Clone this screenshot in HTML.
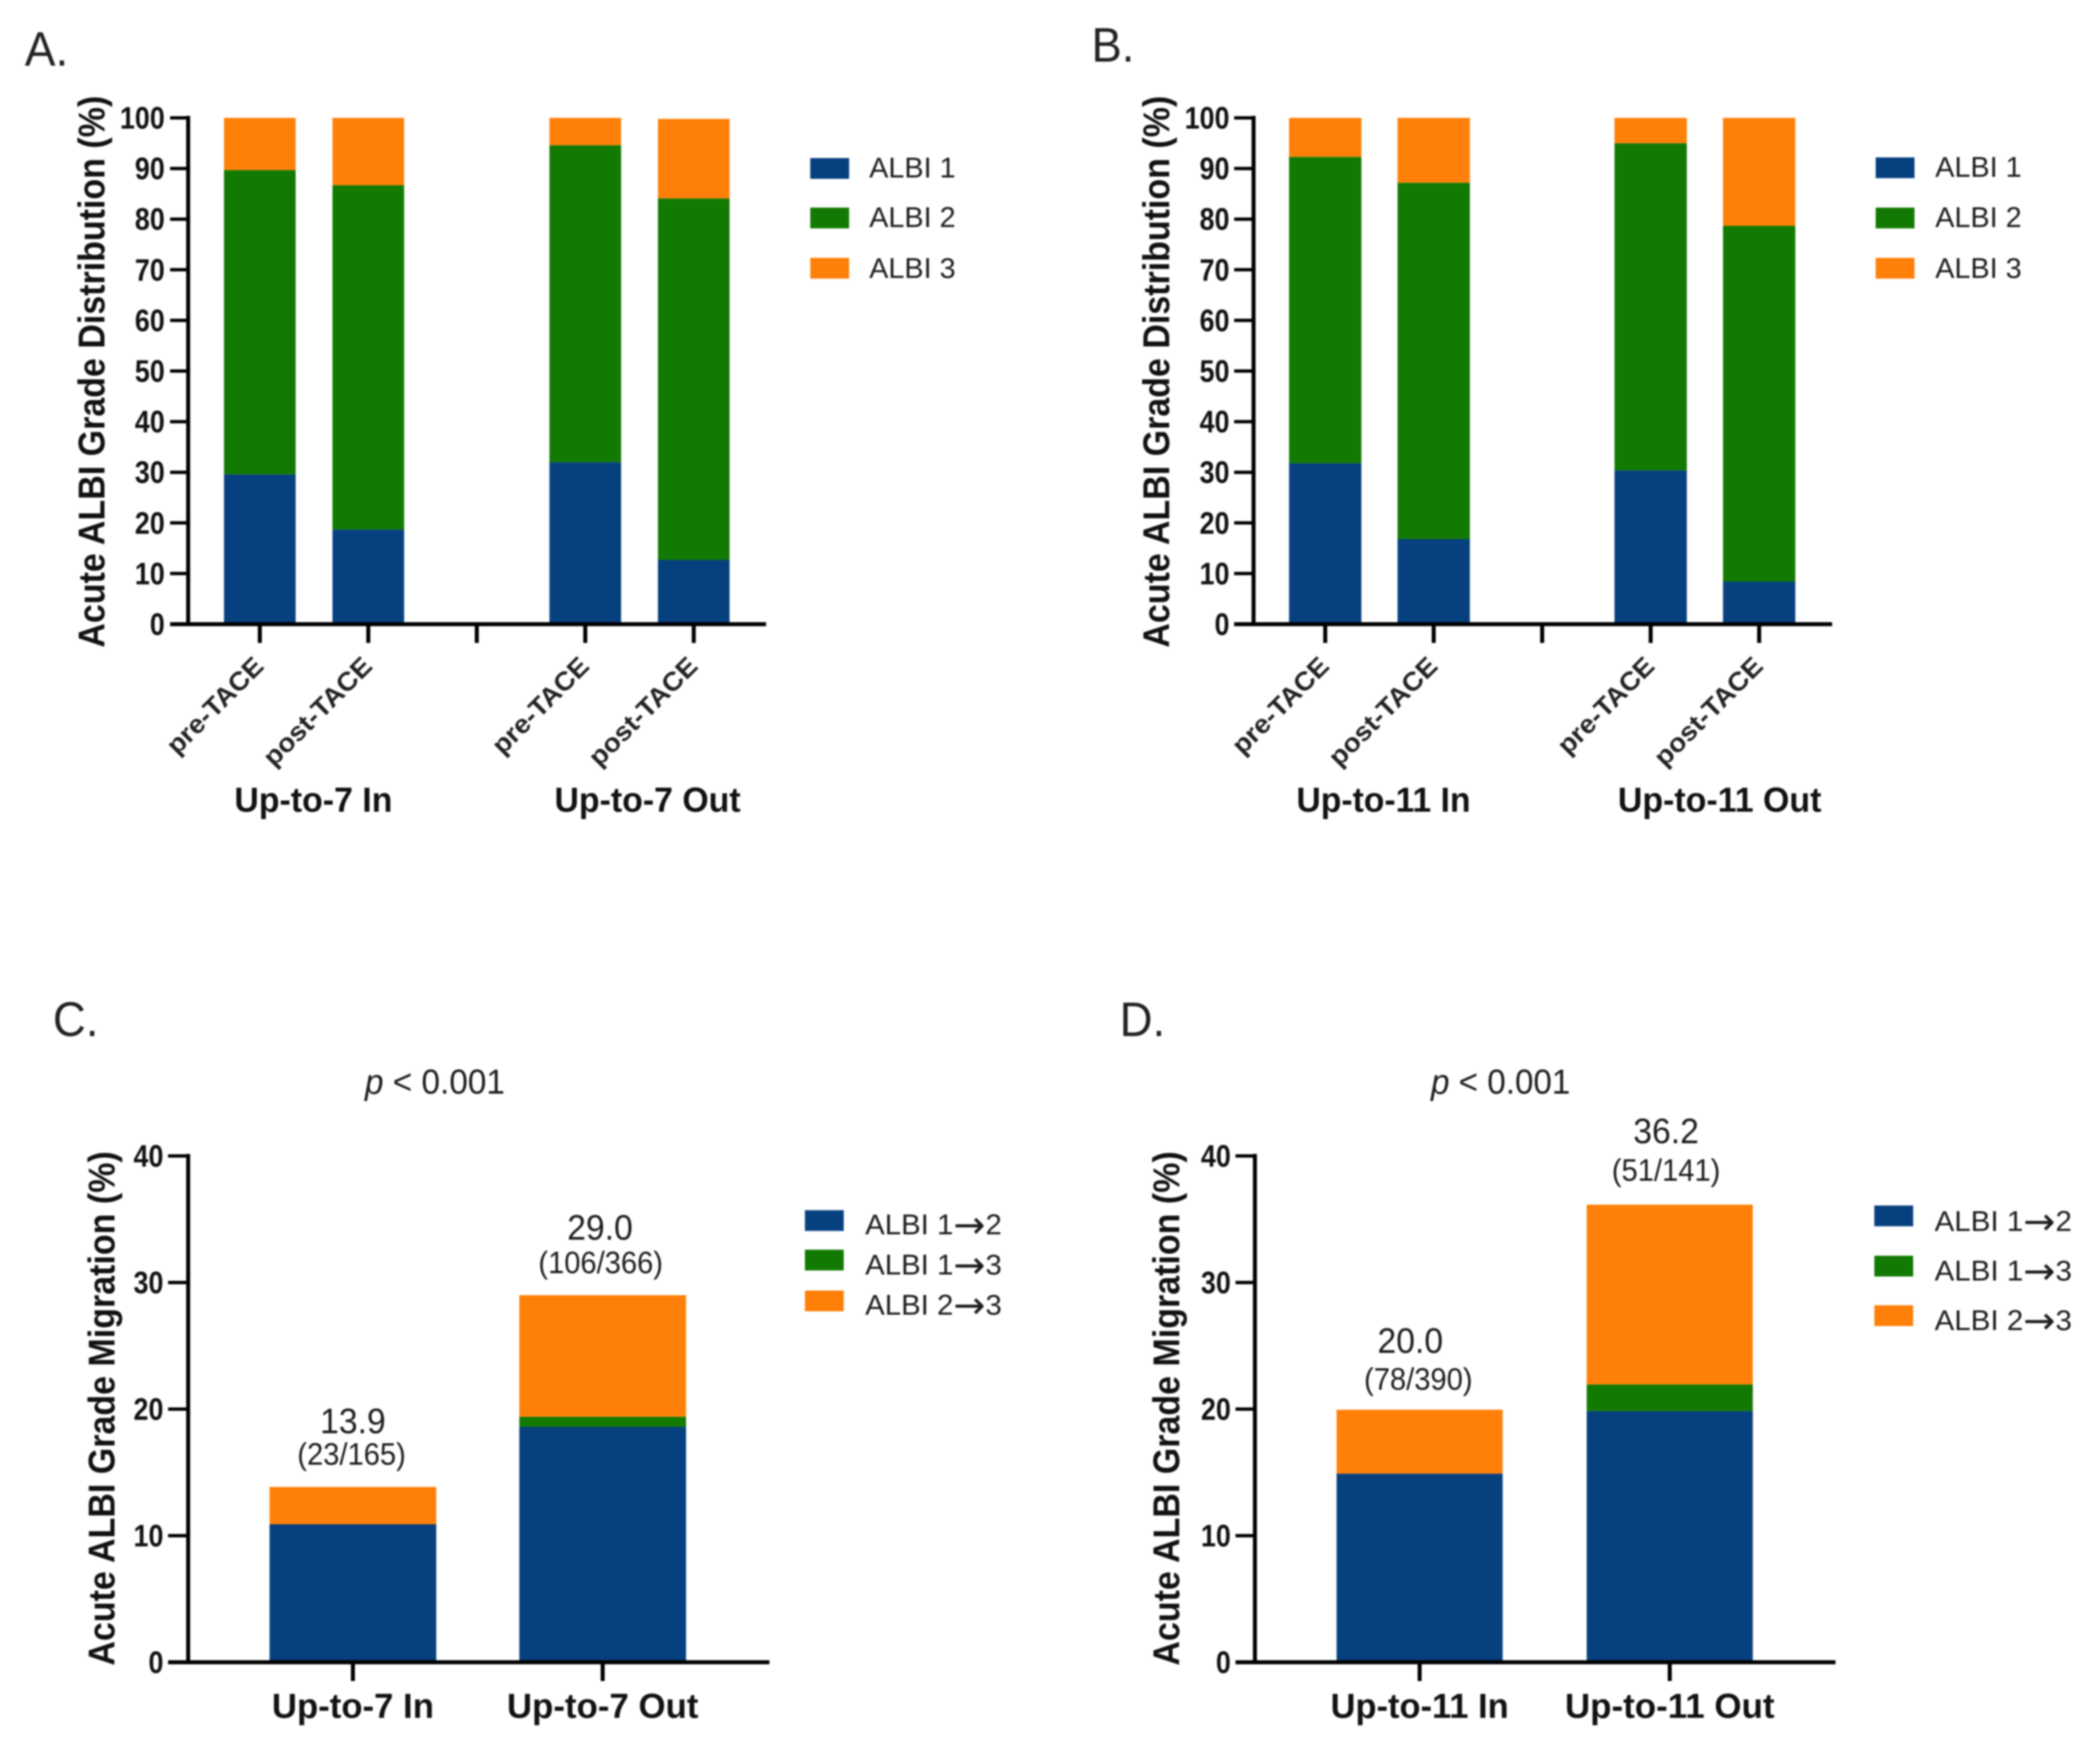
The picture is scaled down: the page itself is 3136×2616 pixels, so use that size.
<!DOCTYPE html>
<html lang="en">
<head>
<meta charset="utf-8">
<title>Acute ALBI Grade Distribution and Migration</title>
<style>
html,body{margin:0;padding:0;background:#fff;}
body{width:3136px;height:2616px;overflow:hidden;}
#figure{display:block;filter:blur(1.4px);font-family:"Liberation Sans",Arial,sans-serif;}
</style>
</head>
<body>
<svg id="figure" xmlns="http://www.w3.org/2000/svg" width="3136" height="2616" viewBox="0 0 3136 2616">
<rect x="0" y="0" width="3136" height="2616" fill="#fff"/>
<text x="37" y="98" font-size="72" fill="#222" textLength="65" lengthAdjust="spacingAndGlyphs">A.</text>
<text x="1630" y="92" font-size="72" fill="#222" textLength="64" lengthAdjust="spacingAndGlyphs">B.</text>
<text x="79" y="1547" font-size="72" fill="#222" textLength="68" lengthAdjust="spacingAndGlyphs">C.</text>
<text x="1672" y="1547" font-size="72" fill="#222" textLength="68" lengthAdjust="spacingAndGlyphs">D.</text>
<text x="545" y="1633" font-size="52" fill="#1c1c1c" textLength="209" lengthAdjust="spacingAndGlyphs"><tspan font-style="italic">p</tspan> &lt; 0.001</text>
<text x="2137" y="1633" font-size="52" fill="#1c1c1c" textLength="208" lengthAdjust="spacingAndGlyphs"><tspan font-style="italic">p</tspan> &lt; 0.001</text>
</svg>
<script>
// Shared series colours and tick labels
const seriesColors = ['#07407f', '#127a02', '#ff8008'];
const distributionTicks = [0, 10, 20, 30, 40, 50, 60, 70, 80, 90, 100];
const migrationTicks = [0, 10, 20, 30, 40];
const distributionLegend = ['ALBI 1', 'ALBI 2', 'ALBI 3'];
const migrationLegend = ['ALBI 1\u21922', 'ALBI 1\u21923', 'ALBI 2\u21923'];

// Panel A
const panelACategories = ['pre-TACE', 'post-TACE', '', 'pre-TACE', 'post-TACE'];
const panelAGroups = ['Up-to-7 In', 'Up-to-7 Out'];
const panelAAlbi1 = [29.6, 18.7, null, 32.0, 12.7];
const panelAAlbi2 = [60.1, 68.0, null, 62.6, 71.4];
const panelAAlbi3 = [10.3, 13.3, null, 5.4, 15.7];

// Panel B
const panelBCategories = ['pre-TACE', 'post-TACE', '', 'pre-TACE', 'post-TACE'];
const panelBGroups = ['Up-to-11 In', 'Up-to-11 Out'];
const panelBAlbi1 = [31.8, 16.8, null, 30.4, 8.4];
const panelBAlbi2 = [60.5, 70.4, null, 64.6, 70.3];
const panelBAlbi3 = [7.7, 12.8, null, 5.0, 21.3];

// Panel C
const panelCCategories = ['Up-to-7 In', 'Up-to-7 Out'];
const panelCMig12 = [10.9, 18.6];
const panelCMig13 = [0, 0.8];
const panelCMig23 = [2.95, 9.6];
const panelCTotals = ['13.9', '29.0'];
const panelCCounts = ['(23/165)', '(106/366)'];

// Panel D
const panelDCategories = ['Up-to-11 In', 'Up-to-11 Out'];
const panelDMig12 = [14.9, 19.85];
const panelDMig13 = [0, 2.1];
const panelDMig23 = [5.05, 14.2];
const panelDTotals = ['20.0', '36.2'];
const panelDCounts = ['(78/390)', '(51/141)'];

const svg = document.getElementById('figure');
const NS = 'http://www.w3.org/2000/svg';

function make(tag, attrs, parent) {
  const el = document.createElementNS(NS, tag);
  for (const k in attrs) el.setAttribute(k, attrs[k]);
  parent.appendChild(el);
  return el;
}
function label(str, attrs, parent) {
  const el = make('text', Object.assign({ lengthAdjust: 'spacingAndGlyphs' }, attrs), parent);
  el.textContent = str;
  return el;
}

function drawAxes(g, L, ticks, yScale) {
  const yAxis = make('line', { x1: L.axisX, x2: L.axisX, y1: yScale(ticks[ticks.length - 1]) - 3, y2: L.y0 + 3, stroke: '#000', 'stroke-width': 6 }, g);
  
  
  const xAxis = make('line', { x1: L.axisStart, x2: L.axisEnd, y1: L.y0, y2: L.y0, stroke: '#000', 'stroke-width': 6 }, g);
  
  
  ticks.forEach(function (t) {
    const y = yScale(t);
    if (t !== 0) {
      const tk = make('line', { x1: L.axisStart, x2: L.axisX, y1: y, y2: y, stroke: '#000', 'stroke-width': 5 }, g);
      
      
    }
    const s = String(t);
    const tl = label(s, { x: L.tickRight, y: y + 16, 'text-anchor': 'end', 'font-size': 46, 'font-weight': 'bold', fill: '#111', textLength: s.length * 22.3 }, g);
    
    
  });
}

function drawYTitle(g, L, str) {
  const t = label(str, {
    x: 0, y: 0, 'text-anchor': 'middle', 'font-size': 56, 'font-weight': 'bold', fill: '#111',
    textLength: L.titleLen,
    transform: 'translate(' + L.titleX + ' ' + L.titleY + ') rotate(-90)'
  }, g);
  
  
}

function drawLegend(g, L, names) {
  names.forEach(function (n, i) {
    const sw = make('rect', { x: L.legSwatchX, y: L.legTop[i], width: 58, height: 31, fill: seriesColors[i] }, g);
    
    
    const tx = make('text', { x: L.legTextX, y: L.legBase[i], 'font-size': L.legFont, fill: '#1c1c1c', textLength: L.legLen, lengthAdjust: 'spacingAndGlyphs' }, g);
    
    
    const parts = n.split('\u2192');
    if (parts.length === 2) {
      make('tspan', {}, tx).textContent = parts[0];
      make('tspan', { 'font-family': '"DejaVu Sans", sans-serif', 'font-size': 56, dy: 5 }, tx).textContent = '\u2192';
      make('tspan', { dy: -5 }, tx).textContent = parts[1];
    } else {
      tx.textContent = n;
    }
  });
}

function drawBars(g, L, stacks, yScale, xScale) {
  stacks[0].forEach(function (_, c) {
    if (stacks[0][c] === null) return;
    let base = 0;
    stacks.forEach(function (series, s) {
      const v = series[c];
      if (v > 0) {
        const top = yScale(base + v);
        const r = make('rect', { x: xScale(c) - L.barW / 2, y: top, width: L.barW, height: yScale(base) - top, fill: seriesColors[s] }, g);
        
        
      }
      base += v;
    });
  });
}

function drawDistribution(L, cats, groups, stacks, title) {
  const g = make('g', {}, svg);
  
  
  const yScale = function (v) { return L.y0 - v * (L.y0 - L.yTop) / 100; };
  const xScale = function (i) { return L.x0 + i * L.step; };
  drawBars(g, L, stacks, yScale, xScale);
  drawAxes(g, L, distributionTicks, yScale);
  cats.forEach(function (c, i) {
    const x = xScale(i);
    const tk = make('line', { x1: x, x2: x, y1: L.y0, y2: L.y0 + 28, stroke: '#000', 'stroke-width': 6 }, g);
    
    
    if (c) {
      const tl = label(c, {
        x: 0, y: 0, 'text-anchor': 'end', 'font-size': 39, 'font-weight': 'bold', fill: '#222',
        textLength: c.length === 8 ? 186 : 211,
        transform: 'translate(' + (x + 8) + ' 997) rotate(-45)'
      }, g);
      
      
    }
  });
  groups.forEach(function (n, i) {
    const gl = label(n, { x: L.groupX[i], y: L.groupY, 'font-size': 52, 'font-weight': 'bold', fill: '#111', textLength: L.groupLen[i] }, g);
    
    
  });
  drawYTitle(g, L, title);
  drawLegend(g, L, distributionLegend);
}

function drawMigration(L, cats, stacks, totals, counts, title) {
  const g = make('g', {}, svg);
  
  
  const yScale = function (v) { return L.y0 - v * (L.y0 - L.yTop) / 40; };
  const xScale = function (i) { return L.x0 + i * L.step; };
  drawBars(g, L, stacks, yScale, xScale);
  drawAxes(g, L, migrationTicks, yScale);
  cats.forEach(function (c, i) {
    const x = xScale(i);
    const tk = make('line', { x1: x, x2: x, y1: L.y0, y2: L.y0 + 28, stroke: '#000', 'stroke-width': 6 }, g);
    
    
    const tl = label(c, { x: x, y: L.catY, 'text-anchor': 'middle', 'font-size': 52, 'font-weight': 'bold', fill: '#111', textLength: L.catLen[i] }, g);
    
    
    const total = stacks.reduce(function (a, s) { return a + s[i]; }, 0);
    const top = yScale(total);
    const v = label(totals[i], { x: L.valX[i], y: top - L.valDy[i], 'text-anchor': 'middle', 'font-size': 53, fill: '#1c1c1c', textLength: 98 }, g);
    
    
    const f = label(counts[i], { x: L.fracX[i], y: top - L.fracDy[i], 'text-anchor': 'middle', 'font-size': 46, fill: '#1c1c1c', textLength: L.fracLen[i] }, g);
    
    
  });
  drawYTitle(g, L, title);
  drawLegend(g, L, migrationLegend);
}

drawDistribution({
  y0: 932, yTop: 176, axisX: 281, axisStart: 254, axisEnd: 1144, tickRight: 246,
  x0: 388, step: 162, barW: 107,
  groupX: [350, 828], groupY: 1212, groupLen: [236, 278],
  titleX: 156, titleY: 555, titleLen: 824,
  legSwatchX: 1210, legTop: [236, 310, 385], legBase: [265, 339, 415], legTextX: 1298, legLen: 129, legFont: 43
}, panelACategories, panelAGroups, [panelAAlbi1, panelAAlbi2, panelAAlbi3], 'Acute ALBI Grade Distribution (%)');

drawDistribution({
  y0: 932, yTop: 176, axisX: 1872, axisStart: 1843, axisEnd: 2736, tickRight: 1836,
  x0: 1979, step: 162, barW: 108,
  groupX: [1936, 2416], groupY: 1212, groupLen: [260, 304],
  titleX: 1746, titleY: 555, titleLen: 824,
  legSwatchX: 2801, legTop: [235, 310, 385], legBase: [264, 339, 415], legTextX: 2890, legLen: 129, legFont: 43
}, panelBCategories, panelBGroups, [panelBAlbi1, panelBAlbi2, panelBAlbi3], 'Acute ALBI Grade Distribution (%)');

drawMigration({
  y0: 2482, yTop: 1726, axisX: 281, axisStart: 251, axisEnd: 1149, tickRight: 244,
  x0: 527, step: 373, barW: 249, catY: 2565, catLen: [242, 286],
  valX: [527, 896], valDy: [80, 83], fracX: [525, 897], fracDy: [33, 33], fracLen: [162, 186],
  titleX: 171, titleY: 2103, titleLen: 768,
  legSwatchX: 1202, legTop: [1807, 1866, 1927], legBase: [1843, 1903, 1963], legTextX: 1292, legLen: 204, legFont: 43
}, panelCCategories, [panelCMig12, panelCMig13, panelCMig23], panelCTotals, panelCCounts, 'Acute ALBI Grade Migration (%)');

drawMigration({
  y0: 2482, yTop: 1726, axisX: 1874, axisStart: 1845, axisEnd: 2741, tickRight: 1838,
  x0: 2120, step: 373.5, barW: 248, catY: 2565, catLen: [266, 313],
  valX: [2106, 2488], valDy: [85, 92], fracX: [2118, 2488], fracDy: [30, 36], fracLen: [162, 162],
  titleX: 1761, titleY: 2103, titleLen: 768,
  legSwatchX: 2799, legTop: [1800, 1875, 1949], legBase: [1838, 1912, 1986], legTextX: 2889, legLen: 205, legFont: 43
}, panelDCategories, [panelDMig12, panelDMig13, panelDMig23], panelDTotals, panelDCounts, 'Acute ALBI Grade Migration (%)');
</script>
</body>
</html>
